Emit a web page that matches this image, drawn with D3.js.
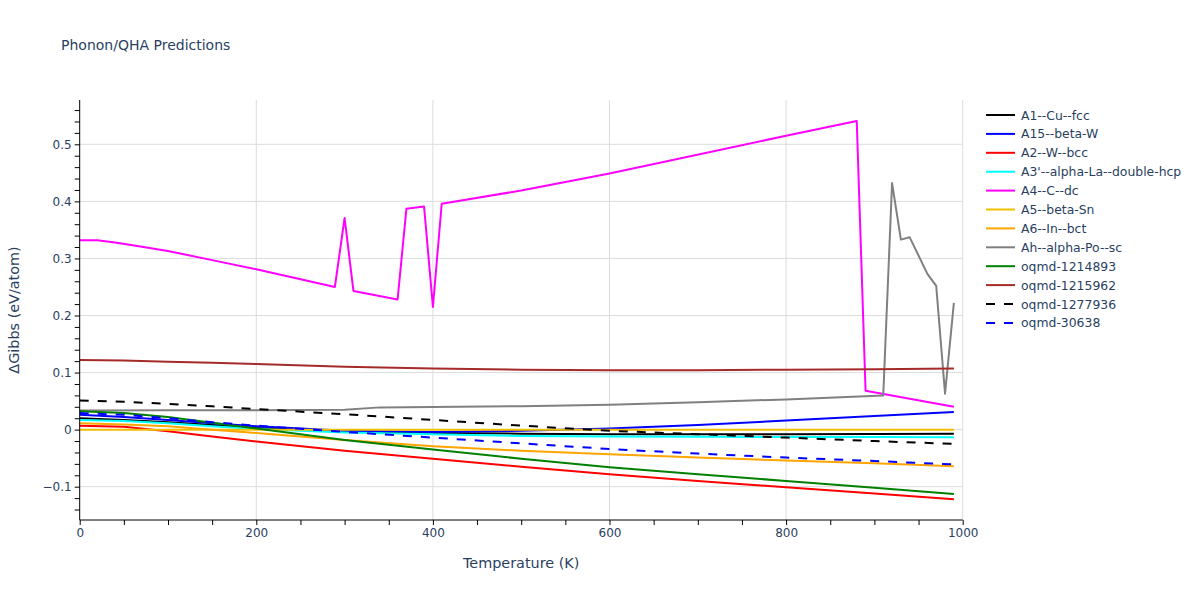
<!DOCTYPE html>
<html><head><meta charset="utf-8">
<script src="https://cdn.jsdelivr.net/npm/d3@7"></script>
<style>body{margin:0;background:#fff}svg{display:block}text{font-family:"DejaVu Sans",Verdana,sans-serif}</style>
</head><body><svg id="c" width="1200" height="600"></svg>
<script>
const tempsStd = [0,50,100,150,200,300,400,500,600,700,800,900,990];
const a1Vals   = [0.020,0.017,0.013,0.008,0.003,-0.003,-0.006,-0.007,-0.008,-0.008,-0.008,-0.0075,-0.007];
const a15Vals  = [0.026,0.022,0.017,0.011,0.006,-0.002,-0.004,-0.002,0.002,0.008,0.016,0.024,0.031];
const a2Vals   = [0.007,0.005,-0.003,-0.012,-0.021,-0.037,-0.051,-0.065,-0.078,-0.090,-0.101,-0.112,-0.122];
const a3Vals   = [0.017,0.015,0.011,0.006,0.001,-0.005,-0.008,-0.011,-0.012,-0.0125,-0.013,-0.013,-0.0135];
const a5Vals   = [0.000,0.000,0.000,0.000,0.000,0.000,0.000,0.000,0.000,0.000,0.000,0.000,0.000];
const a6Vals   = [0.011,0.009,0.006,0.000,-0.006,-0.018,-0.029,-0.037,-0.043,-0.049,-0.054,-0.059,-0.064];
const q1214893 = [0.032,0.029,0.022,0.012,0.002,-0.018,-0.035,-0.051,-0.066,-0.078,-0.090,-0.102,-0.113];
const q1215962 = [0.122,0.121,0.119,0.117,0.115,0.110,0.107,0.105,0.104,0.104,0.105,0.106,0.107];
const q1277936 = [0.051,0.049,0.045,0.041,0.036,0.027,0.017,0.007,-0.002,-0.008,-0.014,-0.020,-0.025];
const q30638   = [0.029,0.026,0.020,0.013,0.007,-0.004,-0.014,-0.024,-0.034,-0.042,-0.049,-0.055,-0.061];
const a4Temps  = [0,20,40,60,100,150,200,289,300,310,360,370,390,400,410,500,600,800,880,890,990];
const a4Vals   = [0.332,0.332,0.328,0.323,0.313,0.297,0.281,0.250,0.371,0.243,0.228,0.387,0.391,0.215,0.396,0.419,0.449,0.515,0.541,0.068,0.040];
const ahTemps  = [0,100,200,300,340,400,500,600,700,800,910,920,930,940,960,970,980,990];
const ahVals   = [0.0335,0.034,0.034,0.035,0.039,0.0395,0.041,0.0435,0.048,0.053,0.0596,0.432,0.333,0.337,0.273,0.252,0.063,0.222];
const seriesNames = ["A1--Cu--fcc","A15--beta-W","A2--W--bcc","A3'--alpha-La--double-hcp","A4--C--dc","A5--beta-Sn","A6--In--bct","Ah--alpha-Po--sc","oqmd-1214893","oqmd-1215962","oqmd-1277936","oqmd-30638"];
const xTicks = [0,200,400,600,800,1000];
const yTicks = [-0.1,0,0.1,0.2,0.3,0.4,0.5];

const styles = [
  {c:"#000000"},{c:"#0000ff"},{c:"#ff0000"},{c:"#00ffff"},{c:"#ff00ff"},{c:"#f0c000"},
  {c:"#ffa500"},{c:"#808080"},{c:"#008000"},{c:"#a52a2a"},{c:"#000000",d:"9,9"},{c:"#0000ff",d:"9,9"}
];
const seriesData = [
  [tempsStd,a1Vals],[tempsStd,a15Vals],[tempsStd,a2Vals],[tempsStd,a3Vals],[a4Temps,a4Vals],[tempsStd,a5Vals],
  [tempsStd,a6Vals],[ahTemps,ahVals],[tempsStd,q1214893],[tempsStd,q1215962],[tempsStd,q1277936],[tempsStd,q30638]
];

const svg = d3.select("#c");
const L=79.7, R=962.7, T=100, B=520;
const x = d3.scaleLinear().domain([0,1000]).range([L,R]);
const y = d3.scaleLinear().domain([-0.1,0.5]).range([486.7,144.3]);
const txt = "#2a3f5f";

// grid
svg.append("g").selectAll("line").data(yTicks).join("line")
  .attr("x1",L).attr("x2",R).attr("y1",d=>y(d)).attr("y2",d=>y(d))
  .attr("stroke","#dcdcdc").attr("stroke-width",1);
svg.append("g").selectAll("line").data(xTicks.filter(d=>d>0)).join("line")
  .attr("y1",T).attr("y2",B).attr("x1",d=>x(d)).attr("x2",d=>x(d))
  .attr("stroke","#dcdcdc").attr("stroke-width",1);

// lines
svg.append("clipPath").attr("id","clip").append("rect").attr("x",L).attr("y",T).attr("width",R-L).attr("height",B-T);
const line = d3.line().x(d=>x(d[0])).y(d=>y(d[1]));
const g = svg.append("g").attr("clip-path","url(#clip)");
seriesData.forEach((s,i)=>{
  const pts = s[0].map((t,j)=>[t,s[1][j]]);
  g.append("path").attr("d",line(pts)).attr("fill","none")
   .attr("stroke",styles[i].c).attr("stroke-width",2)
   .attr("stroke-dasharray",styles[i].d||null).attr("stroke-linejoin","round");
});

// axes
const xAxis = d3.axisBottom(x).tickValues(d3.range(0,1001,50)).tickSize(5)
  .tickFormat(d=> d%200===0 ? d : "");
const gx = svg.append("g").attr("transform",`translate(0,${B})`).call(xAxis);
gx.select(".domain").attr("stroke","#000").attr("d",`M${L},0H${R}`);
gx.selectAll(".tick line").attr("stroke","#000");
gx.selectAll("text").attr("fill",txt).attr("font-size",12).attr("dy","0.9em").attr("y",6);

const yMinor = d3.range(-0.14,0.57,0.02).map(v=>Math.round(v*100)/100);
const yAxis = d3.axisLeft(y).tickValues(yMinor).tickSize(5)
  .tickFormat(d=> (Math.round(d*100)%10===0) ? (d<0? "\u2212"+Math.abs(d) : String(d)) : "");
const gy = svg.append("g").attr("transform",`translate(${L},0)`).call(yAxis);
gy.select(".domain").attr("stroke","#000").attr("d",`M0,${T}V${B}`);
gy.selectAll(".tick line").attr("stroke","#000");
gy.selectAll("text").attr("fill",txt).attr("font-size",12).attr("x",-8);

// titles
svg.append("text").attr("x",61).attr("y",50).attr("fill",txt).attr("font-size",14).text("Phonon/QHA Predictions");
svg.append("text").attr("x",(L+R)/2).attr("y",568).attr("text-anchor","middle").attr("fill",txt).attr("font-size",14.4).text("Temperature (K)");
svg.append("text").attr("transform",`translate(19,${(T+B)/2}) rotate(-90)`).attr("text-anchor","middle").attr("fill",txt).attr("font-size",14.4).text("\u0394Gibbs (eV/atom)");

// legend
const lg = svg.append("g");
seriesNames.forEach((n,i)=>{
  const yy = 115 + i*18.9;
  lg.append("line").attr("x1",986).attr("x2",1015).attr("y1",yy).attr("y2",yy)
    .attr("stroke",styles[i].c).attr("stroke-width",2).attr("stroke-dasharray",styles[i].d||null);
  lg.append("text").attr("x",1021).attr("y",yy+4.5).attr("fill",txt).attr("font-size",12.4).text(n);
});
</script></body></html>
